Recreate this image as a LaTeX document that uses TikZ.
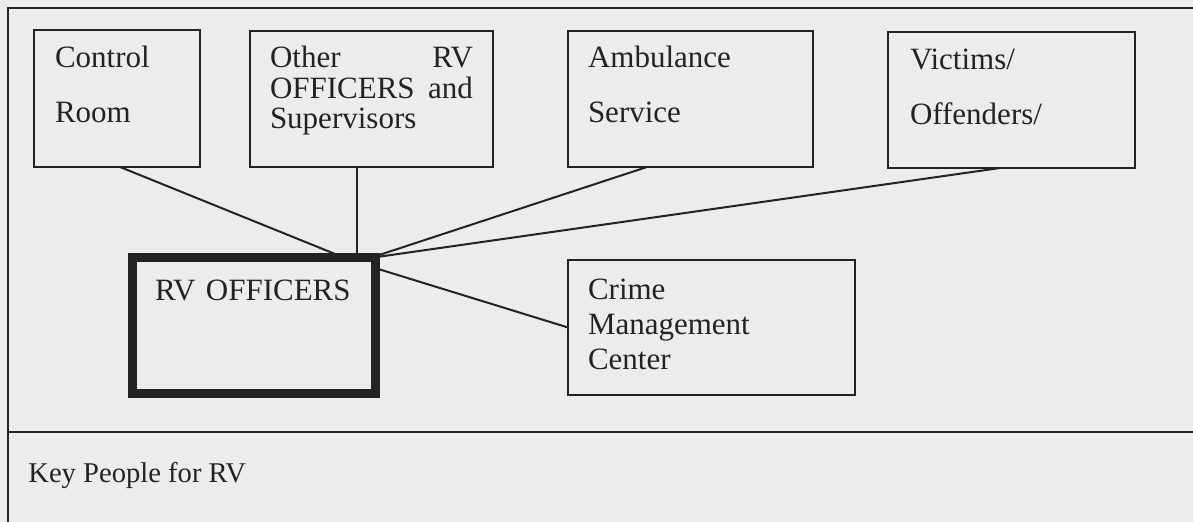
\documentclass[tikz,border=0pt]{standalone}
\usepackage{fontspec}
\setmainfont{Liberation Serif}
\usetikzlibrary{positioning,calc}
\definecolor{scan}{RGB}{236,236,236}
\definecolor{ink}{RGB}{35,35,35}
\tikzset{box/.style={draw=ink,line width=1pt,anchor=north west,align=left,inner ysep=0pt,outer sep=0pt,text=ink},
	link/.style={draw=ink,line width=1pt}}

\begin{document}
\begin{tikzpicture}[x=0.5pt,y=-0.5pt]
	\useasboundingbox[fill=scan] (0,0) rectangle (1193,522);
	% frame of the table
	\draw[link] (7.5,522) |- (1193,8);
	\draw[link] (7.5,432) -- (1193,432);
	
	% top row
	\node[box,font=\fontsize{15.5}{27.5}\selectfont,inner xsep=10.5pt,text width=62pt,text height=19pt,text depth=49.5pt] (ctrl) at (34,30) {Control\\Room};
	\node[box,font=\fontsize{15.5}{15.2}\selectfont,inner xsep=10pt,text width=101.5pt,text height=18.5pt,text depth=49.5pt] (other) at (250,31) {Other\hfill RV\\OFFICERS\hfill and\\Supervisors};
	\node[box,font=\fontsize{15.5}{27.5}\selectfont,inner xsep=10pt,text width=102.5pt,text height=18.5pt,text depth=49.5pt] (amb) at (568,31) {Ambulance\\Service};
	\node[box,font=\fontsize{15.5}{27.5}\selectfont,inner xsep=11pt,text width=101.5pt,text height=19pt,text depth=49pt] (vic) at (888,32) {Victims/\\Offenders/};
	
	% second row
	\node[box,line width=4.5pt,font=\fontsize{15.5}{17.5}\selectfont,inner xsep=11.5pt,text width=98.5pt,text height=21.5pt,text depth=46.5pt] (rv) at (132,258) {RV OFFICERS};
	\node[box,font=\fontsize{15.5}{17.5}\selectfont,inner xsep=10pt,text width=123.5pt,text height=20pt,text depth=47.5pt] (crime) at (568,260) {Crime\\Management\\Center};
	
	\node[anchor=base west,font=\fontsize{14.3}{17}\selectfont,text=ink,inner sep=0pt] (key) at (28,483) {Key People for RV};
	
	% connectors
	\coordinate (hubL) at ([xshift=-15pt]rv.north east);
	\coordinate (hubM) at ([xshift=-9pt]rv.north east);
	\coordinate (hubR) at ([xshift=-2.5pt]rv.north east);
	\draw[link] ([xshift=1.5pt]ctrl.south) -- (hubL);
	\draw[link] (hubM |- other.south) -- (hubM);
	\draw[link] ([xshift=-21.75pt]amb.south) -- (hubR);
	\draw[link] ([xshift=-5.75pt]vic.south) -- (hubR);
	\draw[link] ([yshift=-5pt]rv.north east) -- (crime.west);
\end{tikzpicture}
\end{document}
